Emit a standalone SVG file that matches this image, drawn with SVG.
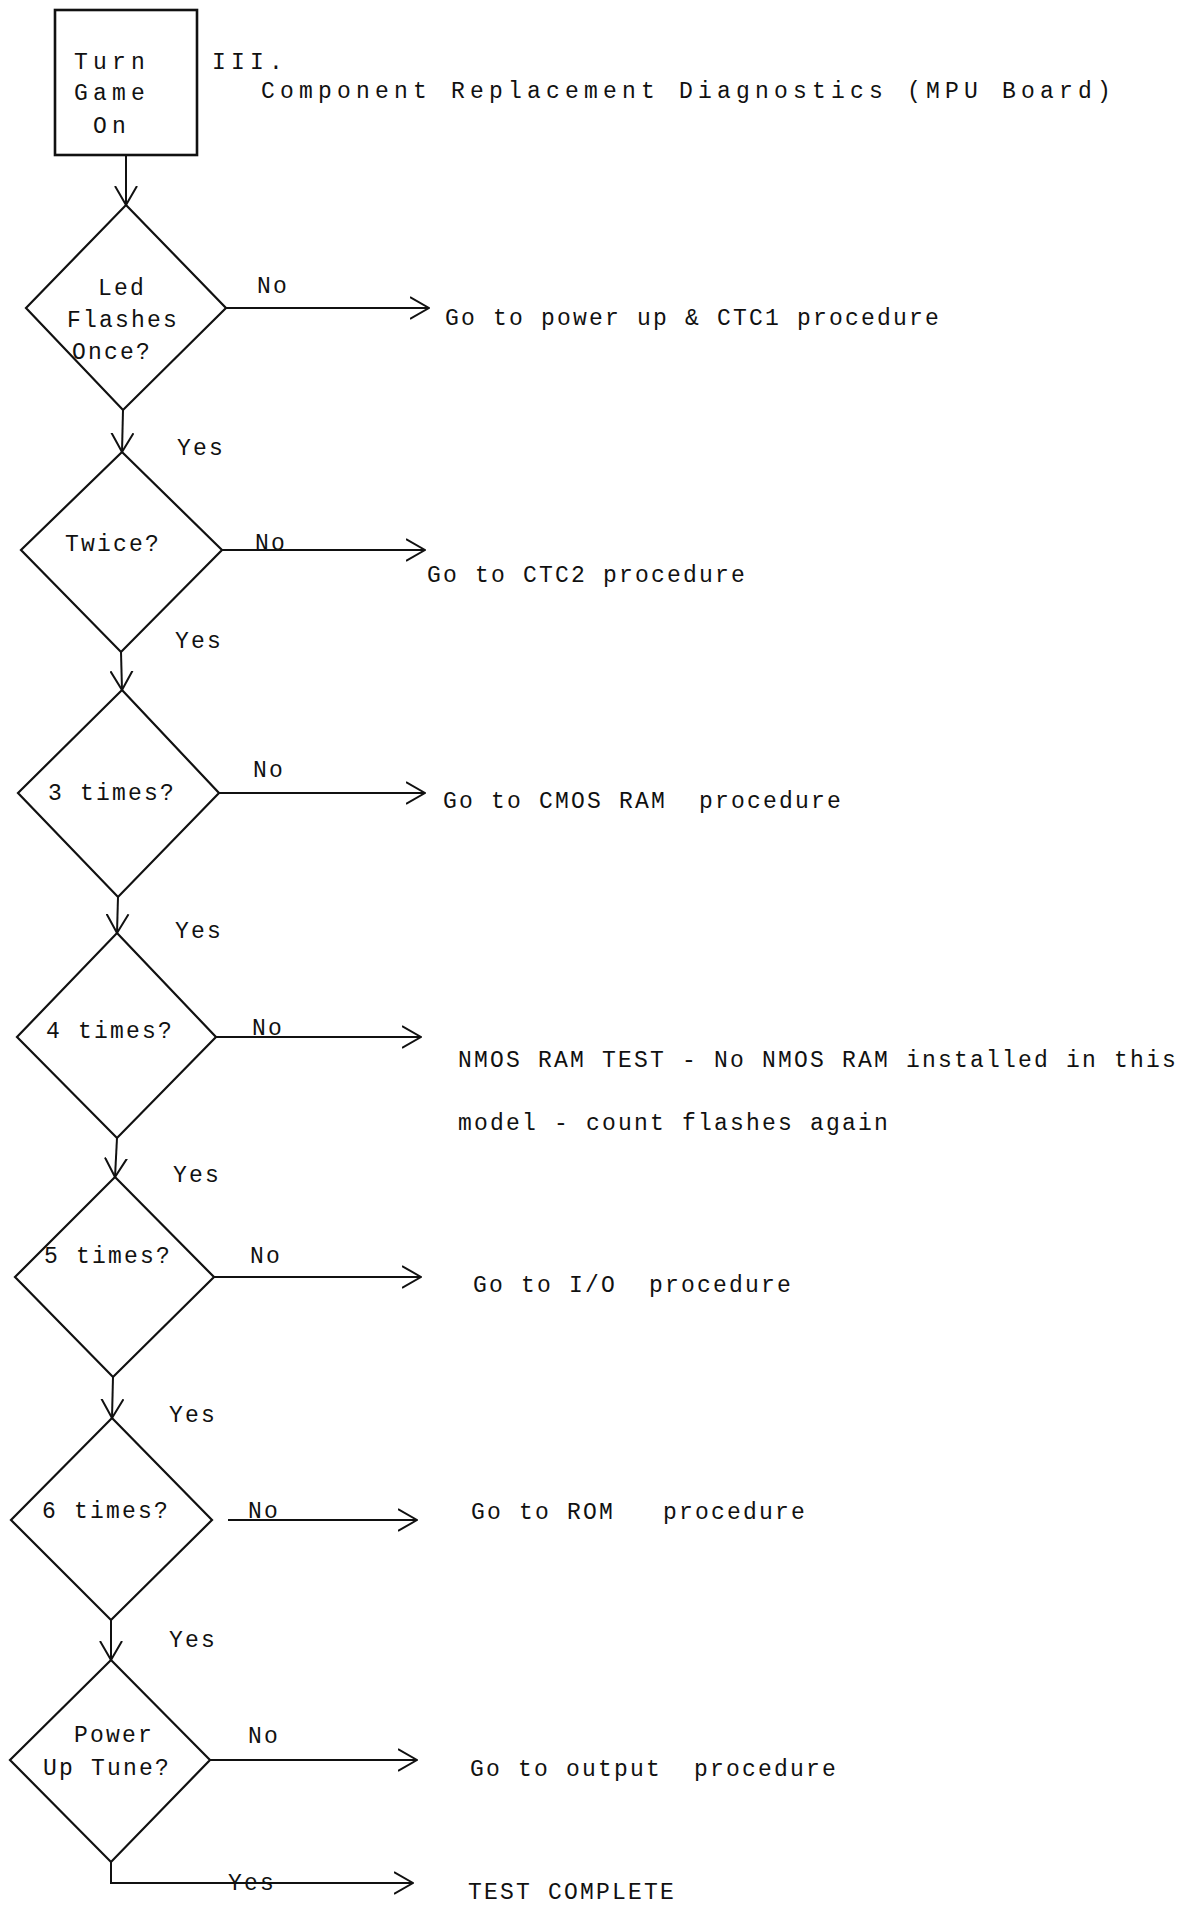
<svg xmlns="http://www.w3.org/2000/svg" width="1186" height="1905" viewBox="0 0 1186 1905" xml:space="preserve">
<style>
text{font-family:"Liberation Mono","DejaVu Sans Mono",monospace;font-size:23px;fill:#111;letter-spacing:2.2px;white-space:pre}
.wide{letter-spacing:5.2px}
.shape{fill:none;stroke:#111;stroke-width:2.2;stroke-linejoin:miter}
.box{fill:none;stroke:#111;stroke-width:2.6}
.conn{fill:none;stroke:#111;stroke-width:2}
</style>
<defs>
<marker id="arr" viewBox="0 0 20 24" refX="19" refY="12" markerWidth="20" markerHeight="24" markerUnits="userSpaceOnUse" orient="auto">
<path d="M0,1 L19,12 L0,23" fill="none" stroke="#111" stroke-width="2"/>
</marker>
</defs>
<rect width="1186" height="1905" fill="#fff"/>

<g id="title">
<text class="wide" x="212" y="69">III.</text>
<text class="wide" x="261" y="98">Component Replacement Diagnostics (MPU Board)</text>
</g>

<g id="start">
<rect class="box" x="55" y="10" width="142" height="145"/>
<text class="wide" x="74" y="69">Turn</text>
<text class="wide" x="74" y="100">Game</text>
<text class="wide" x="93" y="133">On</text>
</g>

<g id="d1">
<polygon class="shape" points="126,205 226,308 123,410 26,308"/>
<text x="98" y="295">Led</text>
<text x="67" y="327">Flashes</text>
<text x="72" y="359">Once?</text>
</g>

<g id="d2">
<polygon class="shape" points="122,452 222,550 121,652 21,550"/>
<text x="65" y="551">Twice?</text>
</g>

<g id="d3">
<polygon class="shape" points="122,690 219,793 118,897 18,793"/>
<text x="48" y="800">3 times?</text>
</g>

<g id="d4">
<polygon class="shape" points="117,933 216,1037 117,1138 17,1037"/>
<text x="46" y="1038">4 times?</text>
</g>

<g id="d5">
<polygon class="shape" points="115,1177 214,1277 113,1377 15,1277"/>
<text x="44" y="1263">5 times?</text>
</g>

<g id="d6">
<polygon class="shape" points="112,1418 212,1520 111,1620 11,1520"/>
<text x="42" y="1518">6 times?</text>
</g>

<g id="d7">
<polygon class="shape" points="111,1660 210,1760 111,1862 10,1760"/>
<text x="74" y="1742">Power</text>
<text x="43" y="1775">Up Tune?</text>
</g>

<g id="t1"><text x="445" y="325">Go to power up &amp; CTC1 procedure</text></g>
<g id="t2"><text x="427" y="582">Go to CTC2 procedure</text></g>
<g id="t3"><text x="443" y="808">Go to CMOS RAM  procedure</text></g>
<g id="t4">
<text x="458" y="1067">NMOS RAM TEST - No NMOS RAM installed in this</text>
<text x="458" y="1130">model - count flashes again</text>
</g>
<g id="t5"><text x="473" y="1292">Go to I/O  procedure</text></g>
<g id="t6"><text x="471" y="1519">Go to ROM   procedure</text></g>
<g id="t7"><text x="470" y="1776">Go to output  procedure</text></g>
<g id="t8"><text x="468" y="1899">TEST COMPLETE</text></g>

<g id="connectors">
<line class="conn" x1="126" y1="155" x2="126" y2="205" marker-end="url(#arr)"/>
<line class="conn" x1="226" y1="308" x2="429" y2="308" marker-end="url(#arr)"/>
<line class="conn" x1="123" y1="410" x2="122" y2="452" marker-end="url(#arr)"/>
<line class="conn" x1="222" y1="550" x2="425" y2="550" marker-end="url(#arr)"/>
<line class="conn" x1="121" y1="652" x2="122" y2="690" marker-end="url(#arr)"/>
<line class="conn" x1="219" y1="793" x2="425" y2="793" marker-end="url(#arr)"/>
<line class="conn" x1="118" y1="897" x2="117" y2="933" marker-end="url(#arr)"/>
<line class="conn" x1="216" y1="1037" x2="421" y2="1037" marker-end="url(#arr)"/>
<line class="conn" x1="117" y1="1138" x2="115" y2="1177" marker-end="url(#arr)"/>
<line class="conn" x1="214" y1="1277" x2="421" y2="1277" marker-end="url(#arr)"/>
<line class="conn" x1="113" y1="1377" x2="112" y2="1418" marker-end="url(#arr)"/>
<line class="conn" x1="228" y1="1520" x2="417" y2="1520" marker-end="url(#arr)"/>
<line class="conn" x1="111" y1="1620" x2="111" y2="1660" marker-end="url(#arr)"/>
<line class="conn" x1="210" y1="1760" x2="417" y2="1760" marker-end="url(#arr)"/>
<polyline class="conn" points="111,1862 111,1883 413,1883" marker-end="url(#arr)"/>
<text x="257" y="293">No</text>
<text x="177" y="455">Yes</text>
<text x="255" y="550">No</text>
<text x="175" y="648">Yes</text>
<text x="253" y="777">No</text>
<text x="175" y="938">Yes</text>
<text x="252" y="1035">No</text>
<text x="173" y="1182">Yes</text>
<text x="250" y="1263">No</text>
<text x="169" y="1422">Yes</text>
<text x="248" y="1518">No</text>
<text x="169" y="1647">Yes</text>
<text x="248" y="1743">No</text>
<text x="228" y="1890">Yes</text>
</g>
</svg>
